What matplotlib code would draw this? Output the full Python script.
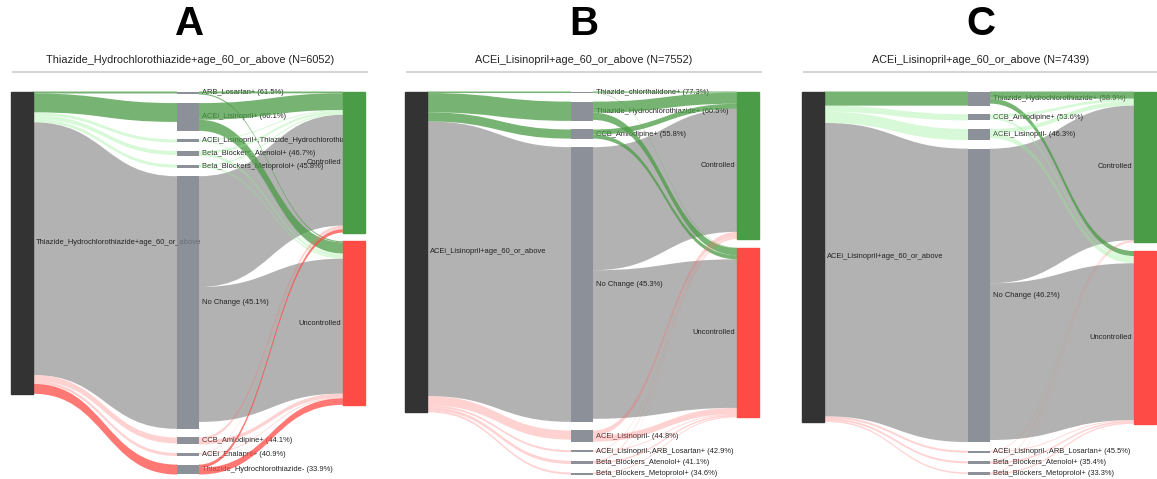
import numpy as np
import matplotlib.pyplot as plt
from matplotlib.path import Path
from matplotlib.patches import PathPatch, Rectangle
from matplotlib.transforms import Bbox, TransformedBbox

plt.rcParams['font.family'] = ['Liberation Sans', 'DejaVu Sans']

W, H = 1157, 479

# ---- panel A ----
a_source = "Thiazide_Hydrochlorothiazide+age_60_or_above"
a_n = 6052
a_names = ["ARB_Losartan+", "ACEi_Lisinopril+",
           "ACEi_Lisinopril+,Thiazide_Hydrochlorothiazide-",
           "Beta_Blockers_Atenolol+", "Beta_Blockers_Metoprolol+", "No Change",
           "CCB_Amlodipine+", "ACEi_Enalapril+", "Thiazide_Hydrochlorothiazide-"]
a_pct = [61.5, 60.1, 53.3, 46.7, 45.8, 45.1, 44.1, 40.9, 33.9]
a_in = [40, 377, 60, 79, 60, 5059, 119, 60, 198]
a_out = [60, 556, 40, 99, 60, 4920, 139, 30, 198]
a_kind = ["dg", "dg", "lg", "lg", "lg", "gray", "lr", "lr", "dr"]

# ---- panel B ----
b_source = "ACEi_Lisinopril+age_60_or_above"
b_n = 7552
b_names = ["Thiazide_chlorthalidone+", "Thiazide_Hydrochlorothiazide+",
           "CCB_Amlodipine+", "No Change", "ACEi_Lisinopril-",
           "ACEi_Lisinopril-,ARB_Losartan+", "Beta_Blockers_Atenolol+",
           "Beta_Blockers_Metoprolol+"]
b_pct = [77.3, 60.5, 55.8, 45.3, 44.8, 42.9, 41.1, 34.6]
b_in = [36, 453, 215, 6466, 215, 48, 72, 47]
b_out = [36, 430, 215, 6394, 262, 36, 60, 36]
b_kind = ["dg", "dg", "dg", "gray", "lr", "lr", "lr", "lr"]

# ---- panel C ----
c_source = "ACEi_Lisinopril+age_60_or_above"
c_n = 7439
c_names = ["Thiazide_Hydrochlorothiazide+", "CCB_Amlodipine+", "ACEi_Lisinopril-",
           "No Change", "ACEi_Lisinopril-,ARB_Losartan+",
           "Beta_Blockers_Atenolol+", "Beta_Blockers_Metoprolol+"]
c_pct = [58.9, 53.6, 46.3, 46.2, 45.5, 35.4, 33.3]
c_in = [319, 137, 251, 6607, 46, 46, 33]
c_out = [273, 114, 205, 6561, 34, 57, 46]
c_kind = ["dg", "lg", "lg", "gray", "lr", "lr", "lr"]

link_style = {
    "dg": ("#4a9b44", 0.75),
    "lg": ("#90ee90", 0.35),
    "gray": ("#808080", 0.6),
    "lr": ("#ff6b6b", 0.3),
    "dr": ("#ff4b46", 0.75),
}
LEFT_C = "#333333"
MID_C = "#787e87"
CTRL_C = "#4b9c46"
UNC_C = "#ff4b46"
TXT_C = "#222222"


def band(ax, xa, ya, xb, yb, h, kind):
    color, alpha = link_style[kind]
    xm = (xa + xb) / 2
    verts = [(xa, ya), (xm, ya), (xm, yb), (xb, yb),
             (xb, yb + h), (xm, yb + h), (xm, ya + h), (xa, ya + h), (xa, ya)]
    codes = [Path.MOVETO, Path.CURVE4, Path.CURVE4, Path.CURVE4,
             Path.LINETO, Path.CURVE4, Path.CURVE4, Path.CURVE4, Path.CLOSEPOLY]
    z = 1 if kind == "gray" else 3
    ax.add_patch(PathPatch(Path(verts, codes), facecolor=color, alpha=alpha,
                           edgecolor="none", zorder=z))


def draw_panel(ax, x0, letter, source, n, names, pct, n_in, n_out, kinds):
    top, bottom, pad, nw, gap = 91.5, 474.5, 8.6, 22, 166
    n_in = np.asarray(n_in, float)
    n_out = np.asarray(n_out, float)
    pct = np.asarray(pct, float)
    sizes = np.maximum(n_in, n_out)
    ky = (bottom - top - pad * (len(names) - 1)) / sizes.sum()
    xl, xm, xr = x0, x0 + gap, x0 + 2 * gap

    mid_top = top + np.concatenate([[0], np.cumsum(sizes[:-1] * ky + pad)])
    ctrl = n_out * pct / 100
    unc = n_out - ctrl
    c_h = ctrl.sum() * ky
    u_top = top + c_h + pad
    u_h = unc.sum() * ky
    left_h = n_in.sum() * ky

    # source -> treatment links
    ys = top
    for i, k in enumerate(kinds):
        band(ax, xl + nw, ys, xm, mid_top[i], n_in[i] * ky, k)
        ys += n_in[i] * ky
    # treatment -> outcome links
    yc, yu = top, u_top
    for i, k in enumerate(kinds):
        band(ax, xm + nw, mid_top[i], xr, yc, ctrl[i] * ky, k)
        band(ax, xm + nw, mid_top[i] + ctrl[i] * ky, xr, yu, unc[i] * ky, k)
        yc += ctrl[i] * ky
        yu += unc[i] * ky

    # nodes
    ax.add_patch(Rectangle((xl, top), nw, left_h, color=LEFT_C, zorder=4))
    for i in range(len(names)):
        ax.add_patch(Rectangle((xm, mid_top[i]), nw, sizes[i] * ky, facecolor=MID_C,
                               alpha=0.85, edgecolor="none", zorder=4))
    ax.add_patch(Rectangle((xr, top), nw, c_h, color=CTRL_C, zorder=4))
    ax.add_patch(Rectangle((xr, u_top), nw, u_h, color=UNC_C, zorder=4))

    # labels, clipped to the panel width
    clip = TransformedBbox(Bbox([[x0, 80], [xr + nw, H]]), ax.transData)
    fs = 5.4
    labels = [ax.text(xl + nw + 3, top + left_h / 2, source, fontsize=fs, color=TXT_C,
                      va="center", ha="left", zorder=2)]
    for i, name in enumerate(names):
        labels.append(ax.text(xm + nw + 3, mid_top[i] + sizes[i] * ky / 2,
                              f"{name} ({pct[i]:.1f}%)", fontsize=fs, color=TXT_C,
                              va="center", ha="left", zorder=2))
    labels.append(ax.text(xr - 2, top + c_h / 2, "Controlled", fontsize=fs, color=TXT_C,
                          va="center", ha="right", zorder=2))
    labels.append(ax.text(xr - 2, u_top + u_h / 2, "Uncontrolled", fontsize=fs,
                          color=TXT_C, va="center", ha="right", zorder=2))
    for t in labels:
        t.set_clip_box(clip)
        t.set_clip_on(True)

    cx = x0 + (2 * gap + nw) / 2 + 2
    ax.text(cx, 24, letter, fontsize=29, fontweight="bold", ha="center", va="center")
    ax.text(cx, 60, f"{source} (N={n})", fontsize=7.8, ha="center", va="center",
            color=TXT_C)
    ax.plot([x0 + 1, x0 + 357], [72, 72], color="#d6d6d6", lw=1.5, solid_capstyle="butt")


fig = plt.figure(figsize=(W / 100, H / 100), dpi=100)
ax = fig.add_axes([0, 0, 1, 1])
ax.set_xlim(0, W)
ax.set_ylim(H, 0)
ax.axis("off")

draw_panel(ax, 11, "A", a_source, a_n, a_names, a_pct, a_in, a_out, a_kind)
draw_panel(ax, 405, "B", b_source, b_n, b_names, b_pct, b_in, b_out, b_kind)
draw_panel(ax, 802, "C", c_source, c_n, c_names, c_pct, c_in, c_out, c_kind)

fig.savefig("out.png", dpi=100, facecolor="white")
